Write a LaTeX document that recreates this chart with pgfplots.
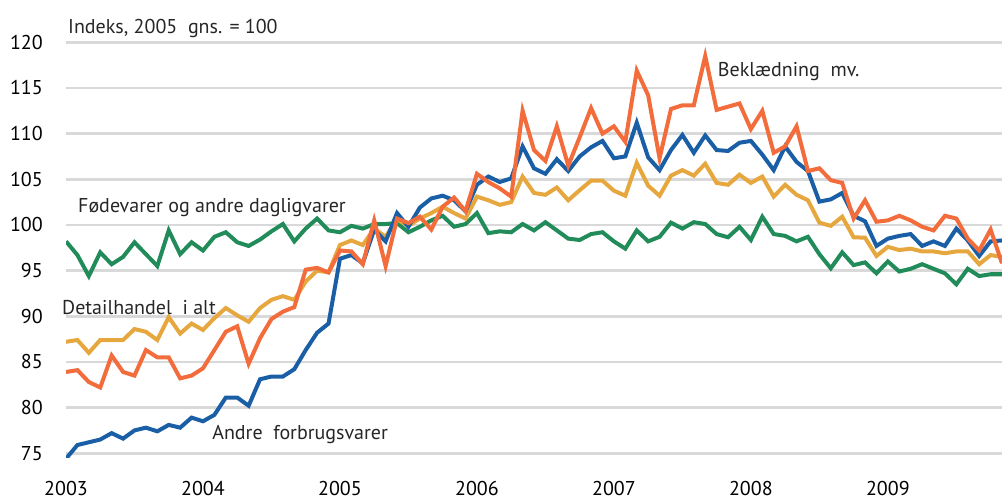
\documentclass[border=0pt]{standalone}
\usepackage{fontspec}
\setmainfont{PT Sans}
\usepackage{pgfplots}
\usepackage{pgfplotstable}
\pgfplotsset{compat=1.18}

\definecolor{blueC}{RGB}{26,95,166}
\definecolor{orangeC}{RGB}{242,108,60}
\definecolor{goldC}{RGB}{230,168,62}
\definecolor{greenC}{RGB}{34,139,90}
\definecolor{gridC}{RGB}{217,217,217}

% i = month since jan 2003
\pgfplotstableread{
i fod det bek andre
0 98.2 87.2 83.9 74.4
1 96.7 87.4 84.1 75.9
2 94.4 86.0 82.8 76.2
3 97.0 87.4 82.2 76.5
4 95.7 87.4 85.7 77.2
5 96.5 87.4 83.9 76.6
6 98.1 88.6 83.5 77.5
7 96.8 88.3 86.3 77.8
8 95.5 87.4 85.5 77.4
9 99.4 89.9 85.5 78.1
10 96.8 88.1 83.2 77.8
11 98.1 89.2 83.5 78.9
12 97.2 88.5 84.3 78.5
13 98.7 89.8 86.3 79.2
14 99.2 90.9 88.3 81.1
15 98.1 90.1 88.9 81.1
16 97.7 89.4 84.8 80.2
17 98.4 90.9 87.6 83.1
18 99.3 91.8 89.7 83.4
19 100.1 92.2 90.5 83.4
20 98.2 91.8 91.0 84.2
21 99.6 93.8 95.1 86.3
22 100.7 95.0 95.3 88.2
23 99.4 94.8 94.8 89.2
24 99.2 97.8 97.2 96.3
25 99.9 98.3 97.1 96.7
26 99.6 97.8 95.7 95.8
27 100.1 99.6 100.5 99.5
28 100.1 98.7 95.5 98.2
29 100.2 100.6 100.7 101.3
30 99.2 99.9 100.2 99.8
31 99.8 100.7 100.9 101.9
32 100.5 101.3 99.5 102.9
33 101.0 102.0 102.0 103.2
34 99.8 101.3 103.0 102.7
35 100.1 100.7 101.5 101.5
36 101.3 103.1 105.6 104.4
37 99.1 102.7 104.7 105.3
38 99.3 102.2 104.0 104.7
39 99.2 102.5 103.1 105.1
40 100.1 105.3 112.5 108.6
41 99.4 103.5 108.2 106.2
42 100.3 103.3 107.0 105.6
43 99.4 104.1 110.8 107.2
44 98.5 102.7 106.5 105.9
45 98.35 103.8 109.6 107.5
46 99.0 104.85 112.8 108.5
47 99.2 104.85 110.0 109.2
48 98.2 103.75 110.8 107.3
49 97.4 103.2 109.1 107.5
50 99.4 106.8 116.9 111.2
51 98.2 104.3 114.2 107.4
52 98.7 103.2 107.3 106.0
53 100.25 105.4 112.7 108.2
54 99.6 106.0 113.1 109.85
55 100.3 105.4 113.1 107.9
56 100.1 106.7 118.5 109.8
57 99.0 104.6 112.6 108.2
58 98.65 104.4 112.95 108.1
59 99.8 105.5 113.3 109.0
60 98.35 104.6 110.5 109.2
61 100.9 105.3 112.5 107.7
62 99.0 103.1 107.9 106.0
63 98.8 104.4 108.6 108.6
64 98.2 103.3 110.8 106.9
65 98.7 102.7 105.9 105.9
66 96.8 100.25 106.2 102.55
67 95.25 99.9 104.9 102.8
68 97.0 100.9 104.6 103.5
69 95.6 98.65 100.7 101.0
70 95.9 98.6 102.7 100.4
71 94.7 96.6 100.35 97.7
72 96.0 97.6 100.5 98.5
73 94.9 97.25 101.0 98.8
74 95.2 97.4 100.5 99.0
75 95.7 97.1 99.8 97.7
76 95.2 97.1 99.4 98.2
77 94.7 96.9 101.0 97.7
78 93.5 97.1 100.7 99.6
79 95.2 97.1 98.5 98.3
80 94.4 95.7 97.2 96.6
81 94.6 96.7 99.5 98.2
82 94.6 96.5 95.8 98.3
}\datatable

\begin{document}
\fontsize{20}{24}\selectfont
\begin{tikzpicture}
\begin{axis}[
    name=ax,
    scale only axis,
    width=936pt, height=415.5pt,
    xmin=0, xmax=82,
    ymin=74.5, ymax=120,
    axis line style={draw=none},
    major tick length=0pt,
    ytick={75,80,...,120},
    xtick={0,12,...,72},
    xticklabels={2003,2004,2005,2006,2007,2008,2009},
    ymajorgrids,
    major grid style={gridC, line width=2.6pt},
    /pgf/number format/assume math mode=true,
    /pgf/number format/1000 sep={},
    yticklabel style={anchor=east, inner sep=0pt, xshift=-23pt},
    xticklabel style={anchor=north, inner sep=0pt, yshift=-23pt},
    clip mode=individual,
    every axis plot/.append style={line width=4pt, mark=none},
]
\addplot[greenC] table[x=i, y=fod] {\datatable};
\addplot[goldC] table[x=i, y=det] {\datatable};
\addplot[blueC] table[x=i, y=andre] {\datatable};
\addplot[orangeC] table[x=i, y=bek] {\datatable};

\node[anchor=base west, inner sep=0pt, text=black!85] at (axis cs:57.1,116.2) {Beklædning\ \ mv.};
\node[anchor=base west, inner sep=0pt, text=black!85] at (axis cs:1.05,101.4) {Fødevarer og\ andre\ dagligvarer};
\node[anchor=base west, inner sep=0pt, text=black!85] at (axis cs:-0.35,90.15) {Detailhandel\ \ i alt};
\node[anchor=base west, inner sep=0pt, text=black!85] at (axis cs:12.8,76.55) {Andre\ \ forbrugsvarer};
\end{axis}
\node[anchor=base west, inner sep=0pt, text=black!85] at ([xshift=2pt, yshift=8.3pt]ax.north west) {Indeks, 2005\ \ gns. = 100};
\pgfresetboundingbox
\path[use as bounding box] ([xshift=-66pt, yshift=-44.2pt]ax.south west) rectangle ([yshift=42.3pt]ax.north east);
\end{tikzpicture}
\end{document}
